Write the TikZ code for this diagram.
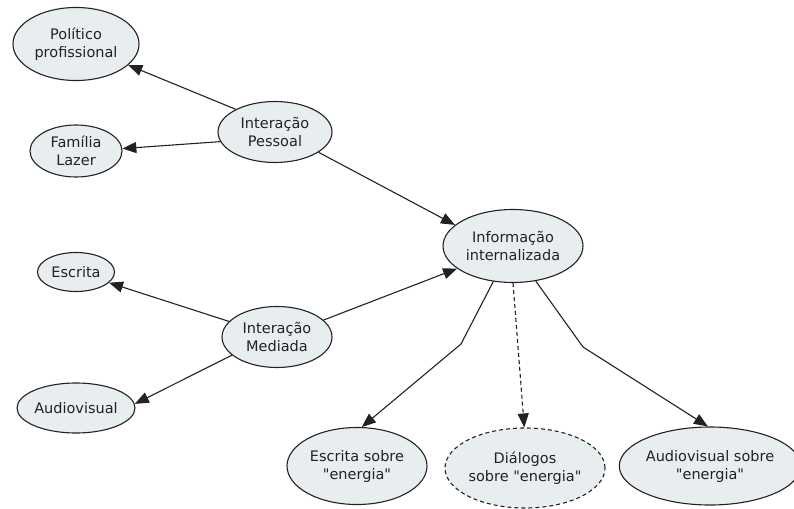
\documentclass[tikz,border=0pt]{standalone}
\usepackage{fontspec}
\setmainfont{DejaVu Sans}[Ligatures=TeXOff]
\usetikzlibrary{shapes.geometric,arrows.meta}
\definecolor{nodefill}{HTML}{E8EEF0}
\definecolor{inkline}{HTML}{222222}
\tikzset{
  concept/.style={ellipse, draw=inkline, fill=nodefill, line width=1.1pt,
    inner sep=0pt, align=center, text=inkline,
    font=\fontsize{14.5}{18}\selectfont},
  link/.style={draw=inkline, line width=1.1pt,
    -{Triangle[length=14pt,width=11pt]}},
  dashlink/.style={link, dash pattern=on 4pt off 3pt},
}
\begin{document}
\begin{tikzpicture}[x=1pt,y=-1pt]
\useasboundingbox (0,0) rectangle (794,508);

% concepts
\node[concept, minimum width=126pt, minimum height=73pt] (pol) at (76,44) {Político\\profissional};
\node[concept, minimum width=92pt, minimum height=52pt] (fam) at (76,151) {Família\\Lazer};
\node[concept, minimum width=114pt, minimum height=61pt] (pes) at (275,132) {Interação\\Pessoal};
\node[concept, minimum width=140pt, minimum height=73pt] (info) at (513,246) {Informação\\internalizada};
\node[concept, minimum width=77pt, minimum height=39pt] (esc) at (76,272) {Escrita};
\node[concept, minimum width=110pt, minimum height=61pt] (med) at (277,337) {Interação\\Mediada};
\node[concept, minimum width=114pt, minimum height=50pt] (aud) at (76,408) {Audiovisual};
\node[concept, minimum width=140pt, minimum height=77pt] (escE) at (357,466) {Escrita sobre\\"energia"};
\node[concept, dash pattern=on 4pt off 3pt, minimum width=160pt, minimum height=80pt] (dia) at (525,468) {Diálogos\\sobre "energia"};
\node[concept, minimum width=164pt, minimum height=78pt] (audE) at (710,466) {Audiovisual sobre\\"energia"};

% bends of the lower links
\coordinate (bendL) at (461,344);
\coordinate (bendR) at (583,347);

% links
\draw[link] (pes.150) -- (pol.338);
\draw[link] (pes.190) -- (fam.3);
\draw[link] (pes.335) -- (info.160);
\draw[link] (med.162) -- (esc.342);
\draw[link] (med.202) -- (aud.4);
\draw[link] (med.20) -- (info.202);
\draw[link] (info.241) -- (bendL) -- (escE.83);
\draw[dashlink] (info.270) -- (dia.91);
\draw[link] (info.303) -- (bendR) -- (audE.93);
\end{tikzpicture}
\end{document}
